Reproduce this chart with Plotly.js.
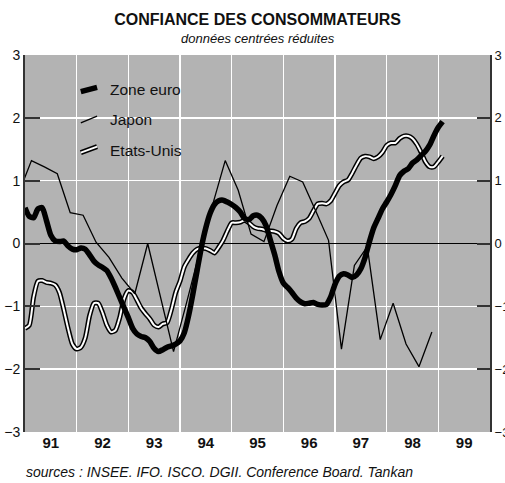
<!DOCTYPE html>
<html>
<head>
<meta charset="utf-8">
<script src="https://cdn.plot.ly/plotly-3.0.1.min.js"></script>
<style>
  body { margin: 0; background: #fff; }
  #chart { width: 505px; height: 483px; }
</style>
</head>
<body>
<div id="chart"></div>
<script>
// monthly series start in jan 1991
var startYear = 1991;

// zone euro, monthly, jan 91 -> feb 99
var euro = [
  0.57, 0.43, 0.41, 0.55, 0.57, 0.36, 0.13, 0.04, 0.03, 0.04, -0.04, -0.09,
  -0.10, -0.07, -0.09, -0.18, -0.28, -0.34, -0.38, -0.43, -0.55, -0.70, -0.86, -1.02,
  -1.18, -1.35, -1.44, -1.48, -1.50, -1.56, -1.67, -1.72, -1.69, -1.65, -1.63, -1.60,
  -1.55, -1.42, -1.15, -0.80, -0.42, -0.05, 0.25, 0.48, 0.62, 0.68, 0.69, 0.66,
  0.62, 0.57, 0.50, 0.40, 0.38, 0.44, 0.45, 0.40, 0.28, 0.05, -0.18, -0.45,
  -0.63, -0.70, -0.78, -0.87, -0.93, -0.96, -0.95, -0.94, -0.97, -0.98, -0.97, -0.85,
  -0.65, -0.52, -0.48, -0.50, -0.54, -0.50, -0.40, -0.22, 0.03, 0.25, 0.40, 0.55,
  0.66, 0.78, 0.92, 1.08, 1.15, 1.19, 1.28, 1.33, 1.40, 1.47, 1.57, 1.72,
  1.85, 1.94
];

// etats-unis, monthly, jan 91 -> feb 99
var usa = [
  -1.35, -1.30, -0.85, -0.60, -0.59, -0.62, -0.63, -0.66, -0.78, -1.05, -1.35, -1.60,
  -1.68, -1.65, -1.50, -1.15, -0.95, -0.95, -1.10, -1.30, -1.41, -1.38, -1.18, -0.88,
  -0.75, -0.78, -0.90, -1.03, -1.12, -1.20, -1.30, -1.33, -1.28, -1.26, -1.05, -0.78,
  -0.60, -0.37, -0.25, -0.15, -0.09, -0.07, -0.08, -0.11, -0.15, -0.06, 0.05, 0.20,
  0.33, 0.33, 0.34, 0.37, 0.33, 0.27, 0.24, 0.23, 0.21, 0.20, 0.19, 0.16,
  0.08, 0.04, 0.07, 0.24, 0.33, 0.35, 0.40, 0.52, 0.63, 0.64, 0.63, 0.68,
  0.80, 0.92, 0.98, 1.01, 1.12, 1.25, 1.36, 1.39, 1.38, 1.35, 1.38, 1.45,
  1.56, 1.60, 1.60, 1.67, 1.71, 1.71, 1.67, 1.58, 1.45, 1.30, 1.22, 1.22,
  1.30, 1.39
];

// japon (tankan), quarterly surveys, nov 90 -> nov 98
var japonDates = [
  1990.875,
  1991.125, 1991.375, 1991.625, 1991.875,
  1992.125, 1992.375, 1992.625, 1992.875,
  1993.125, 1993.375, 1993.625, 1993.875,
  1994.125, 1994.375, 1994.625, 1994.875,
  1995.125, 1995.375, 1995.625, 1995.875,
  1996.125, 1996.375, 1996.625, 1996.875,
  1997.125, 1997.375, 1997.625, 1997.875,
  1998.125, 1998.375, 1998.625, 1998.875
];
var japon = [
  0.80,
  1.32, 1.22, 1.11, 0.49,
  0.45, 0.02, -0.22, -0.55,
  -0.80, 0.00, -0.85, -1.72,
  -0.95, -0.15, 0.60, 1.32,
  0.85, 0.15, 0.03, 0.60,
  1.07, 0.98, 0.52, 0.05,
  -1.68, -0.35, -0.05, -1.53,
  -0.95, -1.60, -1.96, -1.41
];

var yearTicks = [1991.5, 1992.5, 1993.5, 1994.5, 1995.5, 1996.5, 1997.5, 1998.5, 1999.5];
var yearLabels = ['91', '92', '93', '94', '95', '96', '97', '98', '99'];
var yearBounds = [1992, 1993, 1994, 1995, 1996, 1997, 1998, 1999];

function monthly(vals) {
  return vals.map(function (v, i) { return startYear + i / 12; });
}

var narrow = 'Liberation Sans Narrow, Arial Narrow, Liberation Sans, Arial, sans-serif';
var ink = '#111';

var traces = [
  { x: monthly(usa), y: usa, type: 'scatter', mode: 'lines', name: 'Etats-Unis',
    line: { color: '#000', width: 5, shape: 'spline', smoothing: 0.6 }, hoverinfo: 'skip' },
  { x: monthly(usa), y: usa, type: 'scatter', mode: 'lines', name: 'Etats-Unis',
    line: { color: '#fff', width: 2, shape: 'spline', smoothing: 0.6 } },
  { x: japonDates, y: japon, type: 'scatter', mode: 'lines', name: 'Japon',
    line: { color: '#000', width: 1.3 } },
  { x: monthly(euro), y: euro, type: 'scatter', mode: 'lines', name: 'Zone euro',
    line: { color: '#000', width: 5.5, shape: 'spline', smoothing: 0.6 } }
];

// legend drawn by hand: short slanted strokes like the original
function legendLine(y0, y1, color, width) {
  return { type: 'line', xref: 'paper', yref: 'paper', x0: 0.12, x1: 0.155, y0: y0, y1: y1,
           line: { color: color, width: width } };
}

var layout = {
  width: 505,
  height: 483,
  margin: { l: 25, r: 15, t: 55, b: 51 },
  paper_bgcolor: '#fff',
  plot_bgcolor: '#b3b3b3',
  showlegend: false,
  font: { family: narrow, color: ink, size: 14 },
  title: {
    text: 'CONFIANCE DES CONSOMMATEURS',
    font: { family: narrow, size: 16, weight: 'bold', color: ink },
    x: 0.51, xanchor: 'center', y: 0.96, yref: 'container', yanchor: 'middle'
  },
  xaxis: {
    range: [1991, 2000],
    tickmode: 'array', tickvals: yearTicks, ticktext: yearLabels,
    tickfont: { family: narrow, size: 15, weight: 'bold', color: ink },
    ticks: '', showgrid: false, zeroline: false, showline: false,
    minor: { tickmode: 'array', tickvals: yearBounds, showgrid: true, gridcolor: '#fff', gridwidth: 1.5, ticks: '' },
    fixedrange: true
  },
  yaxis: {
    range: [-3, 3], dtick: 1, tick0: 0,
    showgrid: true, gridcolor: '#fff', gridwidth: 1.5,
    zeroline: true, zerolinecolor: '#000', zerolinewidth: 1.5,
    ticks: 'inside', ticklen: 15, tickwidth: 2, tickcolor: '#333',
    showline: true, linecolor: '#333', linewidth: 2,
    tickfont: { family: narrow, size: 14, color: ink },
    automargin: false, fixedrange: true
  },
  yaxis2: {
    overlaying: 'y', side: 'right', anchor: 'x',
    range: [-3, 3], dtick: 1, tick0: 0,
    showgrid: false, zeroline: false,
    ticks: 'inside', ticklen: 13, tickwidth: 2, tickcolor: '#333',
    showline: true, linecolor: '#333', linewidth: 2,
    tickfont: { family: narrow, size: 13, color: ink },
    automargin: false, fixedrange: true
  },
  shapes: [
    legendLine(0.903, 0.914, '#000', 5.5),
    legendLine(0.820, 0.838, '#000', 1.3),
    legendLine(0.741, 0.757, '#000', 5),
    legendLine(0.741, 0.757, '#fff', 2)
  ],
  annotations: [
    { text: '<i>données centrées réduites</i>', xref: 'paper', yref: 'paper', x: 0.5, y: 1.043,
      xanchor: 'center', yanchor: 'middle', showarrow: false, font: { family: narrow, size: 13, color: ink } },
    { text: 'Zone euro', xref: 'paper', yref: 'paper', x: 0.178, y: 0.908, xanchor: 'left', yanchor: 'middle',
      showarrow: false, font: { family: narrow, size: 15.5, color: ink } },
    { text: 'Japon', xref: 'paper', yref: 'paper', x: 0.178, y: 0.828, xanchor: 'left', yanchor: 'middle',
      showarrow: false, font: { family: narrow, size: 15.5, color: ink } },
    { text: 'Etats-Unis', xref: 'paper', yref: 'paper', x: 0.178, y: 0.748, xanchor: 'left', yanchor: 'middle',
      showarrow: false, font: { family: narrow, size: 15.5, color: ink } },
    { text: '<i>sources : INSEE. IFO. ISCO. DGII. Conference Board. Tankan</i>', xref: 'paper', yref: 'paper',
      x: -0.002, y: -0.106, xanchor: 'left', yanchor: 'middle', showarrow: false,
      font: { family: narrow, size: 14, color: ink } }
  ]
};

// a dummy trace on yaxis2 so the right axis is drawn
traces.push({ x: [1991], y: [0], yaxis: 'y2', type: 'scatter', mode: 'lines', showlegend: false,
              hoverinfo: 'skip', line: { width: 0 } });

Plotly.newPlot('chart', traces, layout, { displayModeBar: false, staticPlot: true });
</script>
</body>
</html>
